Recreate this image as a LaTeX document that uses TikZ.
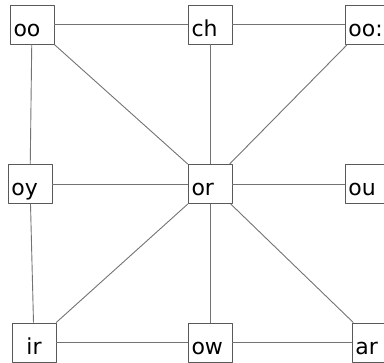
\documentclass[tikz,border=0pt]{standalone}
\usepackage{fontspec}
\setmainfont{DejaVu Sans}
\begin{document}
\begin{tikzpicture}[x=1pt, y=-1pt, line join=round]
	% Farben
	\colorlet{linegray}{black!55}
	\colorlet{boxgray}{black!65}
	\tikzset{
		soundbox/.style={draw=boxgray, line width=0.9pt, fill=white, text width=37pt, inner xsep=3.5pt, align=left,
			minimum height=39pt, text height=25pt, text depth=1pt, font=\fontsize{22}{26}\selectfont},
		link/.style={draw=linegray, line width=0.9pt}
	}
	
	% Bildrahmen
	\useasboundingbox (0,0) rectangle (384,363);
	\clip (0,0) rectangle (384,363);
	
	% Obere Reihe
	\node[soundbox] (oo)  at (32,24.5)  {oo};
	\node[soundbox] (ch)  at (210,24.5) {ch};
	\node[soundbox] (ool) at (367,24.5) {oo:};
	% Mittlere Reihe
	\node[soundbox] (oy)  at (30,184)   {oy};
	\node[soundbox] (or)  at (210,184)  {or};
	\node[soundbox] (ou)  at (367,184)  {ou};
	% Untere Reihe
	\node[soundbox, align=center] (ir) at (34,342.5) {ir};
	\node[soundbox] (ow)  at (210,342.5) {ow};
	\node[soundbox] (ar)  at (374,342.5) {ar};
	
	% Verbindungen
	\foreach \a/\b in {oo/ch, ch/ool, oy/or, or/ou, ir/ow, ow/ar,
		oo/oy, oy/ir, ch/or, or/ow,
		oo/or, ool/or, ir/or, ar/or} {
		\draw[link] (\a) -- (\b);
	}
\end{tikzpicture}
\end{document}
